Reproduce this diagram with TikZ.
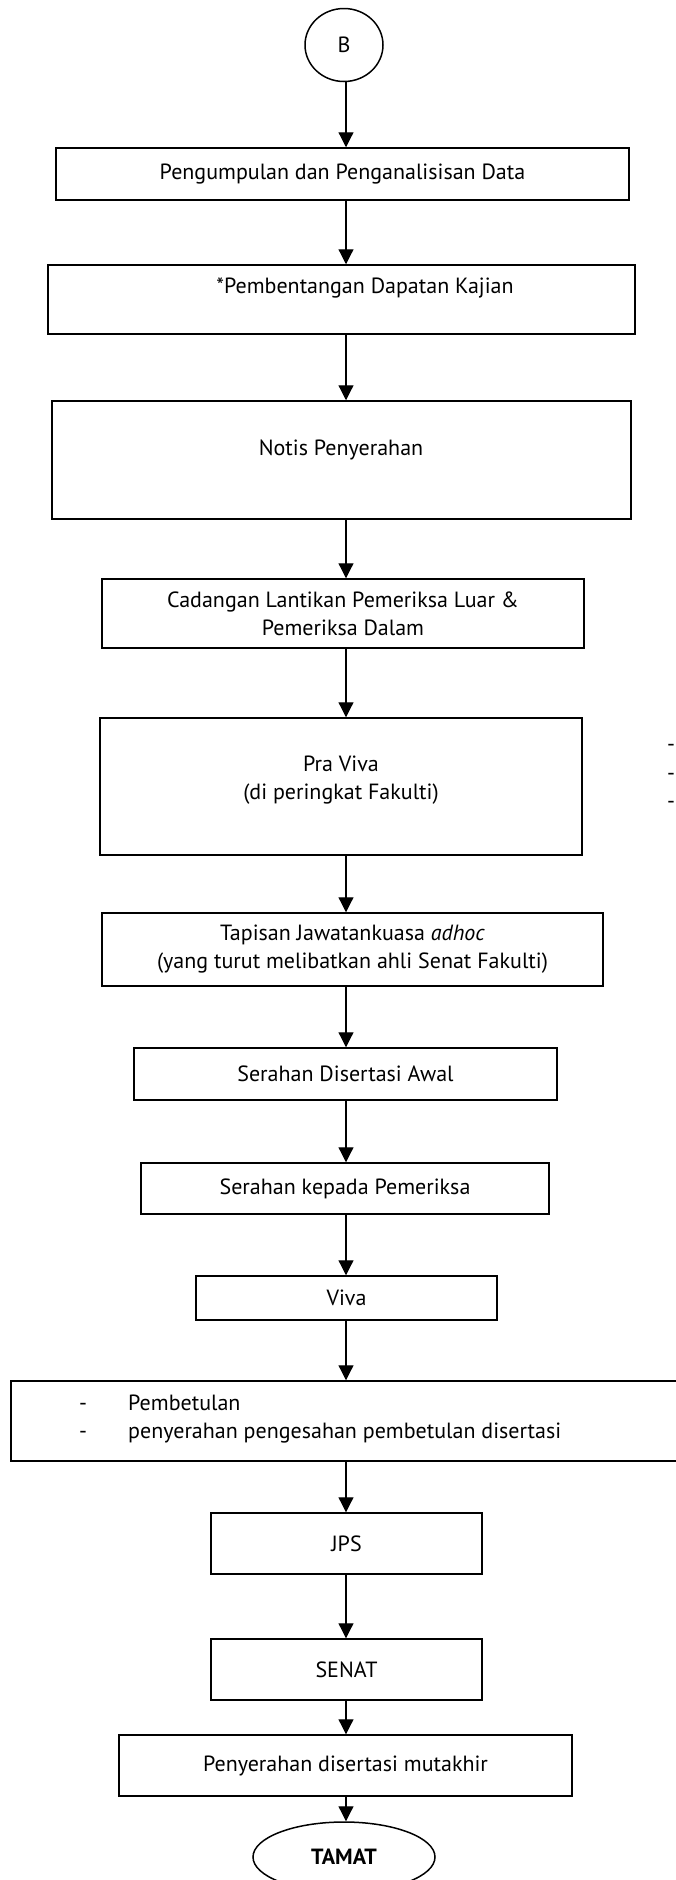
\documentclass[tikz,border=0pt]{standalone}
\usepackage{fontspec}
\setmainfont{PT Sans}
\usetikzlibrary{arrows.meta,shapes.geometric}

\tikzset{
  box/.style={draw, line width=1.5pt, inner sep=0pt, align=center},
  oval/.style={draw, ellipse, line width=1.5pt, inner sep=0pt},
  flow/.style={line width=1.2pt, -{Triangle[length=15pt,width=15pt]}}
}

\begin{document}
\begin{tikzpicture}[x=1pt, y=-1pt, font=\fontsize{22}{28}\selectfont]
  \useasboundingbox (0,0) rectangle (675,1880);
  \coordinate (spine) at (346,0);

  \node[oval, minimum width=78pt, minimum height=73pt] (B) at (344,45) {B};
  \node[box, minimum width=573pt, minimum height=52pt] (data) at (342.5,174) {Pengumpulan dan Penganalisisan Data};
  \node[box, minimum width=587pt, minimum height=69pt] (kajian) at (341.5,299.5) {};
  \node (kajian-t) at (365,288) {*Pembentangan Dapatan Kajian};
  \node[box, minimum width=579pt, minimum height=118pt] (notis) at (341.5,460) {};
  \node (notis-t) at (341,450) {Notis Penyerahan};
  \node[box, minimum width=482pt, minimum height=69pt] (cadangan) at (343,613.5) {Cadangan Lantikan Pemeriksa Luar \&\\Pemeriksa Dalam};
  \node[box, minimum width=482pt, minimum height=137pt] (praviva) at (341,786.5) {};
  \node[align=center] (praviva-t) at (341,780) {Pra Viva\\(di peringkat Fakulti)};
  \node[box, minimum width=501pt, minimum height=73pt] (tapisan) at (352.5,949.5) {Tapisan Jawatankuasa \textit{adhoc}\\(yang turut melibatkan ahli Senat Fakulti)};
  \node[box, minimum width=423pt, minimum height=52pt] (awal) at (345.5,1074) {Serahan Disertasi Awal};
  \node[box, minimum width=408pt, minimum height=51pt] (pemeriksa) at (345,1188.5) {Serahan kepada Pemeriksa};
  \node[box, minimum width=301pt, minimum height=44pt] (viva) at (346.5,1298) {Viva};
  \node[box, minimum width=690pt, minimum height=80pt] (betul) at (356,1421) {};
  \node[anchor=west, align=left, inner sep=0pt] (betul-t) at (79,1419) {\makebox[49pt][l]{-}Pembetulan\\\makebox[49pt][l]{-}penyerahan pengesahan pembetulan disertasi};
  \node[box, minimum width=271pt, minimum height=61pt] (jps) at (346.5,1543.5) {JPS};
  \node[box, minimum width=271pt, minimum height=61pt] (senat) at (346.5,1669.5) {SENAT};
  \node[box, minimum width=453pt, minimum height=61pt] (mutakhir) at (345.5,1765.5) {Penyerahan disertasi mutakhir};
  \node[oval, minimum width=182pt, minimum height=70pt, font=\fontsize{22}{28}\selectfont\bfseries] (tamat) at (344,1857) {TAMAT};

  % dashes cut at the right edge
  \node[anchor=west, inner sep=0pt] (dash1) at (667,748) {-};
  \node[anchor=west, inner sep=0pt] (dash2) at (667,777) {-};
  \node[anchor=west, inner sep=0pt] (dash3) at (667,805) {-};

  \draw[flow] (B.south -| spine) -- (data.north -| spine);
  \draw[flow] (data.south -| spine) -- (kajian.north -| spine);
  \draw[flow] (kajian.south -| spine) -- (notis.north -| spine);
  \draw[flow] (notis.south -| spine) -- (cadangan.north -| spine);
  \draw[flow] (cadangan.south -| spine) -- (praviva.north -| spine);
  \draw[flow] (praviva.south -| spine) -- (tapisan.north -| spine);
  \draw[flow] (tapisan.south -| spine) -- (awal.north -| spine);
  \draw[flow] (awal.south -| spine) -- (pemeriksa.north -| spine);
  \draw[flow] (pemeriksa.south -| spine) -- (viva.north -| spine);
  \draw[flow] (viva.south -| spine) -- (betul.north -| spine);
  \draw[flow] (betul.south -| spine) -- (jps.north -| spine);
  \draw[flow] (jps.south -| spine) -- (senat.north -| spine);
  \draw[flow] (senat.south -| spine) -- (mutakhir.north -| spine);
  \draw[flow] (mutakhir.south -| spine) -- (tamat.north -| spine);
\end{tikzpicture}
\end{document}
